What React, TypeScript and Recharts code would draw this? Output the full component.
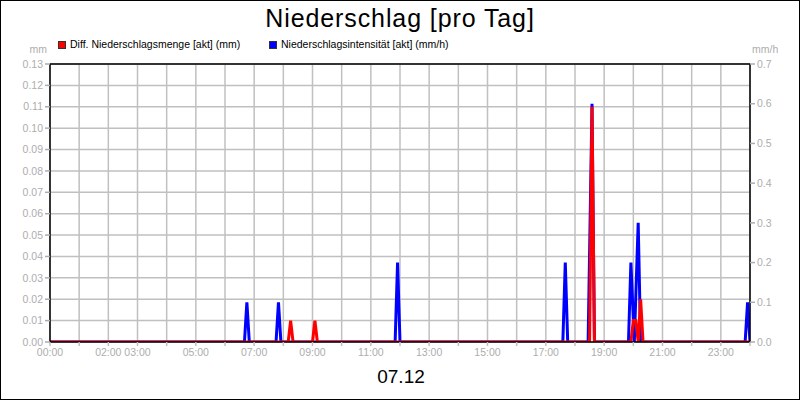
import React from "react";
import {
  LineChart,
  Line,
  XAxis,
  YAxis,
  CartesianGrid,
  ReferenceLine,
} from "recharts";

const chartTitle = "Niederschlag [pro Tag]";
const dateLabel = "07.12";
const leftUnit = "mm";
const rightUnit = "mm/h";
const seriesNames = [
  "Diff. Niederschlagsmenge [akt] (mm)",
  "Niederschlagsintensität [akt] (mm/h)",
];
const seriesColors = ["#ff0000", "#0000ff"];

// Niederschlagsintensität (mm/h) - right axis
const intensityTimes = [
  "00:00", "06:40", "06:45", "06:50", "07:45", "07:50", "07:55",
  "11:50", "11:55", "12:00", "17:35", "17:40", "17:45",
  "18:27", "18:35", "18:40", "19:50", "19:55", "20:02", "20:10", "20:15",
  "23:50", "23:55", "24:00",
];
const intensityValues = [
  0, 0, 0.1, 0, 0, 0.1, 0,
  0, 0.2, 0, 0, 0.2, 0,
  0, 0.6, 0, 0, 0.2, 0, 0.3, 0,
  0, 0.1, 0,
];

// Diff. Niederschlagsmenge (mm) - left axis
const amountTimes = [
  "00:00", "08:10", "08:15", "08:20", "09:00", "09:05", "09:10",
  "18:30", "18:35", "18:40",
  "19:55", "20:00", "20:05", "20:10", "20:15", "20:20", "24:00",
];
const amountValues = [
  0, 0, 0.01, 0, 0, 0.01, 0,
  0, 0.11, 0,
  0, 0.01, 0.01, 0, 0.02, 0, 0,
];

const hourTicks = [
  0, 1, 2, 3, 4, 5, 6, 7, 8, 9, 10, 11, 12, 13, 14, 15, 16, 17, 18, 19, 20, 21, 22, 23, 24,
];
const labeledHours = [0, 2, 3, 5, 7, 9, 11, 13, 15, 17, 19, 21, 23];
const leftTicks = [0, 0.01, 0.02, 0.03, 0.04, 0.05, 0.06, 0.07, 0.08, 0.09, 0.1, 0.11, 0.12, 0.13];
const rightTicks = [0, 0.1, 0.2, 0.3, 0.4, 0.5, 0.6, 0.7];

const toHours = (t: string) => {
  const [h, m] = t.split(":").map(Number);
  return h + m / 60;
};

const intensityData = intensityTimes.map((t, i) => ({ h: toHours(t), v: intensityValues[i] }));
const amountData = amountTimes.map((t, i) => ({ h: toHours(t), v: amountValues[i] }));

const FONT = "'Liberation Sans', Arial, sans-serif";
const GREY_TEXT = "#adadad";
const GRID = "#c0c0c0";

const pad = (n: number) => (n < 10 ? "0" + n : "" + n);

export default function App() {
  const tickStyle = { fill: GREY_TEXT, fontSize: 10.5, fontFamily: FONT };
  return (
    <div
      style={{
        position: "absolute",
        left: 0,
        top: 0,
        width: 800,
        height: 400,
        background: "#fff",
        fontFamily: FONT,
        overflow: "hidden",
      }}
    >
      <LineChart
        width={800}
        height={400}
        margin={{ top: 64, right: 0, bottom: 38, left: 0 }}
      >
        <CartesianGrid yAxisId="left" xAxisId="x" stroke={GRID} strokeWidth={1.5} />
        <XAxis
          xAxisId="x"
          dataKey="h"
          type="number"
          domain={[0, 24]}
          ticks={hourTicks}
          interval={0}
          height={20}
          tickSize={4}
          tickMargin={3}
          tickFormatter={(v: number) => (labeledHours.includes(v) ? pad(v) + ":00" : "")}
          tick={tickStyle}
          axisLine={{ stroke: "#000", strokeWidth: 1.5 }}
          tickLine={{ stroke: GRID, strokeWidth: 1.5 }}
          allowDataOverflow
        />
        <YAxis
          yAxisId="left"
          orientation="left"
          width={50}
          domain={[0, 0.13]}
          ticks={leftTicks}
          interval={0}
          tickSize={5}
          tickMargin={2}
          tickFormatter={(v: number) => v.toFixed(2)}
          tick={tickStyle}
          axisLine={{ stroke: "#000", strokeWidth: 1.5 }}
          tickLine={{ stroke: GREY_TEXT, strokeWidth: 1.5 }}
          allowDataOverflow
        />
        <YAxis
          yAxisId="right"
          orientation="right"
          width={50}
          domain={[0, 0.7]}
          ticks={rightTicks}
          interval={0}
          tickSize={5}
          tickMargin={2}
          tickFormatter={(v: number) => v.toFixed(1)}
          tick={tickStyle}
          axisLine={{ stroke: "#000", strokeWidth: 1.5 }}
          tickLine={{ stroke: GREY_TEXT, strokeWidth: 1.5 }}
          allowDataOverflow
        />
        <ReferenceLine yAxisId="left" xAxisId="x" y={0.13} stroke="#000" strokeWidth={1.5} />
        <Line
          xAxisId="x"
          yAxisId="right"
          data={intensityData}
          dataKey="v"
          type="linear"
          stroke={seriesColors[1]}
          strokeWidth={3}
          dot={false}
          activeDot={false}
          isAnimationActive={false}
        />
        <Line
          xAxisId="x"
          yAxisId="left"
          data={amountData}
          dataKey="v"
          type="linear"
          stroke={seriesColors[0]}
          strokeWidth={3}
          dot={false}
          activeDot={false}
          isAnimationActive={false}
        />
      </LineChart>

      {/* Title */}
      <div
        style={{
          position: "absolute",
          left: 0,
          width: 800,
          top: 5.5,
          textAlign: "center",
          fontSize: 25,
          lineHeight: "25px",
          letterSpacing: 0.9,
          color: "#000",
          whiteSpace: "nowrap",
        }}
      >
        {chartTitle}
      </div>

      {/* Legend */}
      {seriesNames.map((name, i) => {
        const left = i === 0 ? 58 : 269;
        return (
          <div key={name}>
            <div
              style={{
                position: "absolute",
                left,
                top: 41,
                width: 6,
                height: 6,
                background: seriesColors[i],
                border: "1px solid #333",
              }}
            />
            <div
              style={{
                position: "absolute",
                left: left + 12,
                top: 39,
                fontSize: 10.5,
                lineHeight: "10.5px",
                color: "#000",
                whiteSpace: "nowrap",
              }}
            >
              {name}
            </div>
          </div>
        );
      })}

      {/* Units */}
      <div
        style={{
          position: "absolute",
          right: 800 - 47,
          top: 44,
          fontSize: 10.5,
          lineHeight: "10.5px",
          color: GREY_TEXT,
          whiteSpace: "nowrap",
        }}
      >
        {leftUnit}
      </div>
      <div
        style={{
          position: "absolute",
          left: 752,
          top: 44,
          fontSize: 10.5,
          lineHeight: "10.5px",
          color: GREY_TEXT,
          whiteSpace: "nowrap",
        }}
      >
        {rightUnit}
      </div>

      {/* Date */}
      <div
        style={{
          position: "absolute",
          left: 1,
          width: 800,
          top: 367,
          textAlign: "center",
          fontSize: 19,
          lineHeight: "19px",
          color: "#000",
        }}
      >
        {dateLabel}
      </div>

      {/* Outer frame */}
      <div
        style={{
          position: "absolute",
          left: 0,
          top: 0,
          width: 800,
          height: 400,
          boxSizing: "border-box",
          border: "1px solid #000",
          pointerEvents: "none",
        }}
      />
    </div>
  );
}
